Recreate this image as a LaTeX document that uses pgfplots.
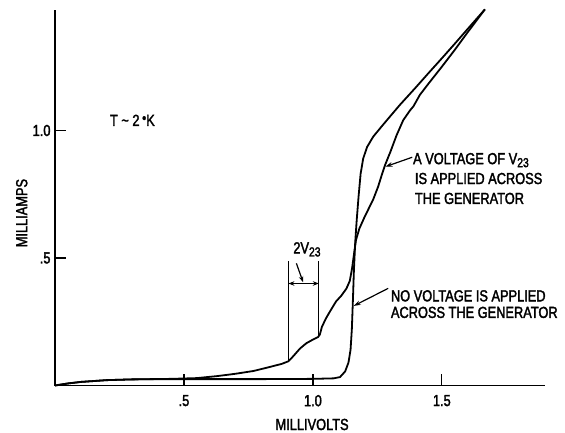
\documentclass[border=0pt]{standalone}
\usepackage{pgfplots}
\pgfplotsset{compat=1.18}
\usepackage{fontspec}
\setmainfont{Liberation Sans}[FakeStretch=0.8, FakeBold=2]
\usetikzlibrary{arrows.meta}
\newcommand\sub[1]{\raisebox{-3bp}{\fontsize{13bp}{13bp}\selectfont #1}}
\begin{document}
\fontsize{16bp}{19bp}\selectfont
\begin{tikzpicture}
\path[use as bounding box] (0,0) rectangle (565bp,433bp);
\begin{axis}[
 at={(55bp,47.5bp)}, anchor=south west,
 scale only axis, width=490bp, height=375.5bp,
 xmin=0, xmax=1.9, ymin=0, ymax=1.4725,
 axis lines=left, axis line style={-, line width=1.3bp},
 xtick={0.5,1,1.5}, xticklabels={.5,1.0,1.5},
 ytick={0.5,1}, yticklabels={.5,1.0},
 tick align=inside, major tick length=11bp,
 tick style={line width=1.3bp, black},
 xticklabel style={yshift=-4bp},
 yticklabel style={xshift=1bp},
 clip=false,
 ticklabel style={font=\fontsize{16bp}{19bp}\selectfont},
]
% no voltage applied
\addplot[black, line width=1.8bp, line join=round] coordinates {
(0,0) (0.05,0.008) (0.1,0.014) (0.2,0.021) (0.3,0.024) (0.5,0.025) (0.8,0.025)
(1.0,0.026) (1.08,0.028) (1.105,0.033) (1.125,0.055) (1.138,0.09) (1.146,0.14)
(1.151,0.22) (1.155,0.33) (1.159,0.45) (1.164,0.56) (1.170,0.65) (1.177,0.74)
(1.185,0.83) (1.195,0.89) (1.21,0.935) (1.234,0.976) (1.27,1.02) (1.30,1.056)
(1.337,1.10) (1.40,1.17) (1.45,1.227) (1.50,1.283) (1.55,1.34) (1.60,1.398) (1.667,1.475)
};
% voltage V23 applied
\addplot[black, line width=1.8bp, line join=round] coordinates {
(0,0) (0.05,0.008) (0.1,0.014) (0.2,0.021) (0.3,0.024) (0.45,0.026) (0.55,0.029)
(0.63,0.037) (0.70,0.046) (0.77,0.057) (0.83,0.072) (0.88,0.085) (0.905,0.095)
(0.915,0.105) (0.93,0.122) (0.95,0.145) (0.975,0.166) (1.00,0.18) (1.02,0.19)
(1.027,0.20) (1.035,0.23) (1.05,0.262) (1.066,0.29) (1.09,0.33) (1.11,0.352)
(1.13,0.38) (1.143,0.41) (1.152,0.46) (1.16,0.52) (1.167,0.57) (1.18,0.615)
(1.20,0.66) (1.234,0.73) (1.253,0.78) (1.27,0.835) (1.28,0.865) (1.30,0.915)
(1.324,0.98) (1.35,1.04) (1.376,1.078) (1.39,1.095) (1.415,1.14) (1.45,1.186)
(1.50,1.25) (1.55,1.316) (1.60,1.385) (1.667,1.475)
};
% 2V23 markers
\draw[line width=1.2bp] (axis cs:0.905,0.095) -- (axis cs:0.905,0.49);
\draw[line width=1.2bp] (axis cs:1.023,0.19) -- (axis cs:1.023,0.49);
\draw[line width=1.2bp, {Stealth[length=6bp,width=4.5bp]}-{Stealth[length=6bp,width=4.5bp]}] (axis cs:0.905,0.40) -- (axis cs:1.023,0.40);
\draw[line width=1.2bp, -{Stealth[length=6bp,width=4.5bp]}] (axis cs:0.936,0.479) -- (axis cs:0.962,0.405);
\node[anchor=base, inner sep=0] at (axis cs:0.977,0.518) {2V\sub{23}};
% annotations
\draw[line width=1.2bp, -{Stealth[length=7bp,width=4.5bp]}] (axis cs:1.385,0.895) -- (axis cs:1.281,0.858);
\node[anchor=base west, inner sep=0] at (axis cs:1.388,0.868) {A VOLTAGE OF V\sub{23}};
\node[anchor=base west, inner sep=0] at (axis cs:1.395,0.790) {IS APPLIED ACROSS};
\node[anchor=base west, inner sep=0] at (axis cs:1.395,0.712) {THE GENERATOR};
\draw[line width=1.2bp, -{Stealth[length=7bp,width=4.5bp]}] (axis cs:1.292,0.381) -- (axis cs:1.158,0.312);
\node[anchor=base west, inner sep=0] at (axis cs:1.302,0.330) {NO VOLTAGE IS APPLIED};
\node[anchor=base west, inner sep=0] at (axis cs:1.302,0.265) {ACROSS THE GENERATOR};
\node[anchor=base, inner sep=0] at (axis cs:0.30,1.018) {T \textasciitilde{} 2\,\raisebox{3bp}{\scalebox{0.9}{\textbullet}}K};
\node[anchor=base, inner sep=0] at (axis cs:0.997,-0.1745) {MILLIVOLTS};
\node[rotate=90, inner sep=0] at (axis cs:-0.129,0.676) {MILLIAMPS};
\end{axis}
\end{tikzpicture}
\end{document}
